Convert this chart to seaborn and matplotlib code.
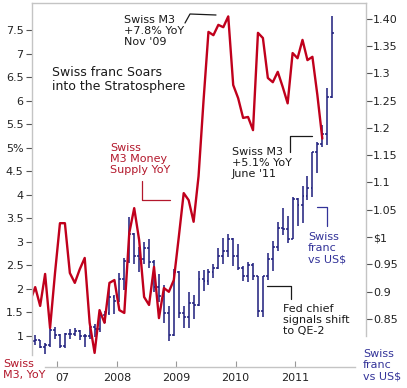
import numpy as np
import pandas as pd
import seaborn as sns
import matplotlib.pyplot as plt
from matplotlib.lines import Line2D
from matplotlib.transforms import ScaledTranslation

W, H = 407, 388

# Swiss M3 money supply, % year on year (monthly)
m3_months = pd.date_range("2006-07-01", "2011-06-01", freq="MS")
m3_yoy = [1.75, 2.04, 1.64, 2.32, 1.17, 2.34,
          3.40, 3.40, 2.34, 2.13, 2.42, 2.66, 1.28, 0.64, 1.55, 1.28, 2.13, 2.19,
          1.55, 1.49, 3.19, 3.72, 3.04, 1.83, 1.66, 2.47, 1.38, 2.02, 1.94, 2.19,
          3.10, 4.04, 3.89, 3.43, 4.40, 6.00, 7.47, 7.40, 7.62, 7.57, 7.80, 6.34,
          6.06, 5.64, 5.66, 5.38, 7.45, 7.34, 6.49, 6.40, 6.62, 6.30, 5.95, 7.02,
          6.91, 7.30, 6.87, 6.94, 6.13, 5.20]

# Swiss franc vs US$, monthly bars
fx_months = pd.date_range("2006-08-01", "2011-08-01", freq="MS")
fx_open = [0.810, 0.811, 0.799, 0.803, 0.829,
           0.820, 0.801, 0.822, 0.822, 0.827, 0.818, 0.818, 0.835, 0.831, 0.858, 0.861, 0.890,
           0.883, 0.923, 0.956, 1.006, 0.965, 0.959, 0.979, 0.955, 0.908, 0.892, 0.861, 0.821,
           0.936, 0.861, 0.853, 0.879, 0.876, 0.923, 0.920, 0.936, 0.943, 0.965, 0.975, 0.997,
           0.966, 0.943, 0.929, 0.949, 0.929, 0.865, 0.928, 0.960, 0.982, 1.016, 1.015, 0.996,
           1.070, 1.059, 1.075, 1.089, 1.155, 1.170, 1.188, 1.256]
fx_high = [0.820, 0.812, 0.806, 0.834, 0.835,
           0.823, 0.825, 0.831, 0.833, 0.830, 0.822, 0.835, 0.841, 0.861, 0.864, 0.912, 0.894,
           0.934, 0.962, 1.037, 1.008, 0.981, 0.991, 0.996, 0.957, 0.933, 0.912, 0.873, 0.942,
           0.937, 0.873, 0.900, 0.893, 0.937, 0.939, 0.942, 0.951, 0.980, 0.998, 1.006, 0.998,
           0.988, 0.946, 0.954, 0.952, 0.929, 0.929, 0.971, 0.992, 1.028, 1.053, 1.038, 1.073,
           1.072, 1.094, 1.111, 1.156, 1.174, 1.205, 1.272, 1.405]
fx_low = [0.803, 0.796, 0.786, 0.799, 0.814,
          0.797, 0.797, 0.814, 0.818, 0.811, 0.798, 0.814, 0.817, 0.826, 0.842, 0.858, 0.859,
          0.881, 0.903, 0.952, 0.951, 0.936, 0.951, 0.944, 0.900, 0.881, 0.842, 0.809, 0.818,
          0.851, 0.834, 0.833, 0.849, 0.873, 0.901, 0.912, 0.925, 0.941, 0.951, 0.964, 0.946,
          0.939, 0.919, 0.918, 0.921, 0.853, 0.853, 0.921, 0.937, 0.975, 1.003, 0.989, 0.996,
          1.020, 1.025, 1.068, 1.074, 1.117, 1.165, 1.168, 1.254]
fx_close = [0.811, 0.799, 0.803, 0.829, 0.820,
            0.801, 0.822, 0.822, 0.827, 0.818, 0.818, 0.835, 0.831, 0.858, 0.861, 0.890, 0.883,
            0.923, 0.956, 1.006, 0.965, 0.959, 0.979, 0.955, 0.908, 0.892, 0.861, 0.821, 0.936,
            0.861, 0.853, 0.879, 0.876, 0.923, 0.920, 0.936, 0.943, 0.965, 0.975, 0.997, 0.966,
            0.943, 0.929, 0.949, 0.929, 0.865, 0.928, 0.960, 0.982, 1.016, 1.015, 0.996, 1.070,
            1.059, 1.075, 1.089, 1.155, 1.170, 1.188, 1.256, 1.374]

left_ticks = [1, 1.5, 2, 2.5, 3, 3.5, 4, 4.5, 5, 5.5, 6, 6.5, 7, 7.5]
left_labels = ["1", "1.5", "2", "2.5", "3", "3.5", "4", "4.5", "5%", "5.5", "6", "6.5", "7", "7.5"]
right_ticks = [0.85, 0.9, 0.95, 1.0, 1.05, 1.1, 1.15, 1.2, 1.25, 1.3, 1.35, 1.4]
right_labels = ["0.85", "0.9", "0.95", "$1", "1.05", "1.1", "1.15", "1.2", "1.25", "1.3", "1.35", "1.40"]
year_ticks = [2007, 2008, 2009, 2010, 2011]
year_labels = ["07", "2008", "2009", "2010", "2011"]

RED = "#c0001c"
RED_TXT = "#b3182c"
NAVY = "#1c1c7c"
NAVY_TXT = "#333399"
GREY = "#c4c4c4"


def dec_year(d):
    return d.year + (d.month - 0.5) / 12


m3 = pd.DataFrame({"t": [dec_year(d) for d in m3_months], "yoy": m3_yoy})
fx = pd.DataFrame({"t": [dec_year(d) for d in fx_months], "o": fx_open,
                   "h": fx_high, "l": fx_low, "c": fx_close})

sns.set_theme(style="white")
plt.rcParams["font.family"] = ["DejaVu Sans"]

fig = plt.figure(figsize=(W / 100, H / 100), dpi=100)
ax = fig.add_axes([32 / W, 1 - 367 / H, 334 / W, 364 / H])
ax2 = ax.twinx()
ax.set_zorder(2)
ax.patch.set_visible(False)

# franc bars
ax2.vlines(fx["t"], fx["l"], fx["h"], color=NAVY, linewidth=1.1)
ax2.hlines(fx["o"], fx["t"] - 0.032, fx["t"], color=NAVY, linewidth=1.1)
ax2.hlines(fx["c"], fx["t"], fx["t"] + 0.032, color=NAVY, linewidth=1.1)

# M3 line
sns.lineplot(data=m3, x="t", y="yoy", ax=ax, color=RED, linewidth=1.7)

xlo, xhi = 2006.571, 2012.194
ax.set_xlim(xlo, xhi)
ax.set_ylim(0.340, 8.085)
ax2.set_ylim(0.7619, 1.4286)
ax.set_xlabel("")
ax.set_ylabel("")

ax.set_yticks(left_ticks, left_labels)
ax2.set_yticks(right_ticks, right_labels)
ax.set_xticks(year_ticks, year_labels)

ax.tick_params(axis="y", left=True, direction="out", length=4, width=0.8,
               color="#555555", pad=2, labelsize=8, labelcolor="#222222")
ax.tick_params(axis="x", bottom=True, direction="in", length=4, width=0.8,
               color="#999999", pad=4, labelsize=8, labelcolor="#222222")
ax2.tick_params(axis="y", right=True, direction="out", length=4, width=0.8,
                color="#555555", pad=1, labelsize=8, labelcolor="#222222")

for a in (ax, ax2):
    for s in a.spines.values():
        s.set_color(GREY)
        s.set_linewidth(1.0)
ax.spines["right"].set_visible(False)
ax2.spines["left"].set_visible(False)
ax2.spines["bottom"].set_visible(False)
ax2.spines["top"].set_visible(False)
ax.spines["left"].set_bounds(0.596, 8.085)
ax2.spines["right"].set_bounds(0.8187, 1.4286)
ax.spines["bottom"].set_bounds(2006.79, 2012.01)

first = ax.get_xticklabels()[0]
first.set_transform(first.get_transform() + ScaledTranslation(0.05, 0, fig.dpi_scale_trans))


def ptext(x, y, s, color="#1a1a1a", size=8, **kw):
    fig.text(x / W, 1 - y / H, s, color=color, fontsize=size, ha="left",
             va="center", linespacing=1.15, **kw)


def pline(pts, color):
    xs = [p[0] / W for p in pts]
    ys = [1 - p[1] / H for p in pts]
    fig.add_artist(Line2D(xs, ys, transform=fig.transFigure, color=color, linewidth=0.9))


ptext(124, 31, "Swiss M3\n+7.8% YoY\nNov '09")
pline([(185, 23), (190, 14), (216, 15)], "#1a1a1a")

ptext(52, 79.5, "Swiss franc Soars\ninto the Stratosphere", size=9)

ptext(110, 159, "Swiss\nM3 Money\nSupply YoY", color=RED_TXT)
pline([(142, 181), (142, 200), (170, 200)], RED_TXT)

ptext(232, 163, "Swiss M3\n+5.1% YoY\nJune '11")
pline([(290, 152), (290, 136), (312, 136)], "#1a1a1a")

ptext(308, 248, "Swiss\nfranc\nvs US$", color=NAVY_TXT)
pline([(317, 207), (327, 207), (327, 226)], NAVY_TXT)

ptext(283, 320, "Fed chief\nsignals shift\nto QE-2")
pline([(267, 286), (291, 286), (291, 299)], "#1a1a1a")

ptext(3, 369.5, "Swiss\nM3, YoY", color=RED_TXT)
ptext(363, 365, "Swiss\nfranc\nvs US$", color=NAVY_TXT)

fig.savefig("out.png", dpi=100)
